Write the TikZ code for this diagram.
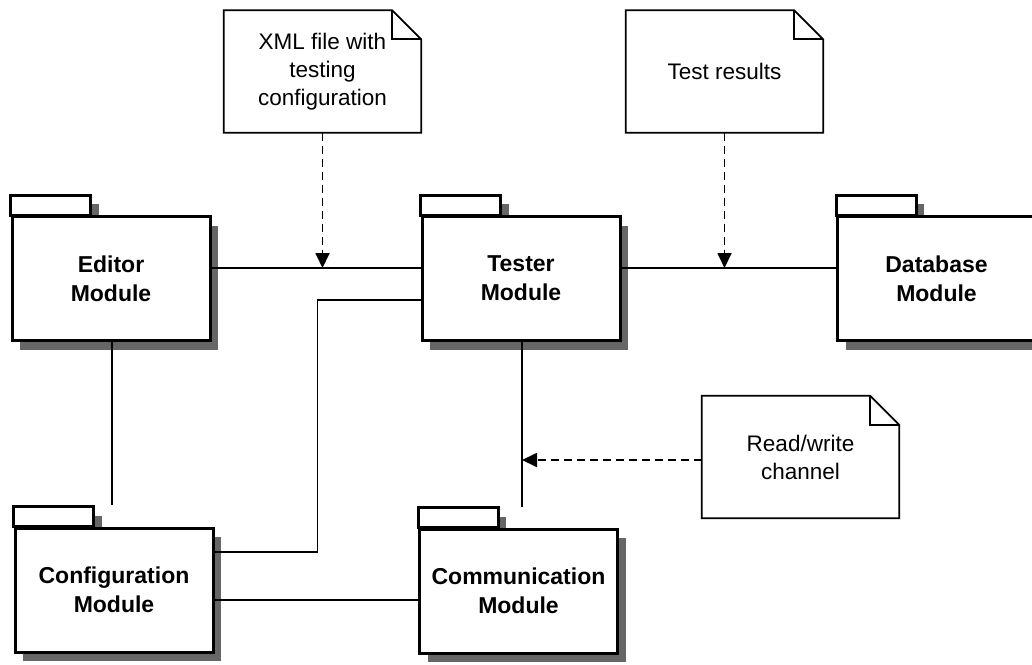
\documentclass[tikz,border=0pt]{standalone}
\usepackage{fontspec}
\setmainfont{Liberation Sans}
\usetikzlibrary{arrows.meta,shadows}
\pgfdeclarelayer{paper}
\pgfdeclarelayer{tabs}
\pgfsetlayers{paper,tabs,main}
\definecolor{shadowgray}{HTML}{666666}
\tikzset{
  x=1pt, y=-1pt,
  pkg/.style={draw, line width=3pt, fill=white, minimum width=198pt, minimum height=124pt,
    inner sep=0pt, align=center, font=\fontsize{23}{29}\selectfont\bfseries,
    drop shadow={shadow xshift=8pt, shadow yshift=-9pt, fill=shadowgray, opacity=1}},
  pkgtab/.style={draw, line width=3pt, fill=white,
    drop shadow={shadow xshift=8pt, shadow yshift=-9pt, fill=shadowgray, opacity=1}},
  note/.style={minimum width=197pt, minimum height=122pt, inner sep=0pt, align=center,
    font=\fontsize{22.5}{28}\selectfont},
  noteline/.style={draw, line width=1.8pt, fill=white},
  conn/.style={draw, line width=1.8pt},
  dep/.style={draw, line width=1.8pt, dash pattern=on 8pt off 5pt,
    -{Triangle[length=15pt, width=14pt]}},
}
% tab on top of a package body, drawn behind it
\newcommand\pkgtabfor[1]{%
  \begin{pgfonlayer}{tabs}
    \path[pkgtab] (#1.north west) rectangle ([xshift=80pt, yshift=20pt]#1.north west);
  \end{pgfonlayer}}
% dog-eared outline of a note
\newcommand\noteframe[1]{%
  \path[noteline] (#1.north west) -- ([xshift=-29pt]#1.north east)
    -- ([yshift=-29pt]#1.north east) -- (#1.south east) -- (#1.south west) -- cycle;
  \draw[line width=1.8pt] ([xshift=-29pt]#1.north east) |- ([yshift=-29pt]#1.north east);}
\begin{document}
\begin{tikzpicture}
\useasboundingbox (0,0) rectangle (1032,664);
\clip (0,0) rectangle (1032,664);
\begin{pgfonlayer}{paper}
  \fill[white] (0,0) rectangle (1032,664);
\end{pgfonlayer}

% packages
\node[pkg] (ed) at (111,278.5) {Editor\\Module};
\node[pkg] (ts) at (521,278.5) {Tester\\Module};
\node[pkg] (db) at (936.5,278.5) {Database\\Module};
\node[pkg] (cf) at (114,590) {Configuration\\Module};
\node[pkg] (cm) at (518.5,591) {Communication\\Module};
\pkgtabfor{ed}
\pkgtabfor{ts}
\pkgtabfor{db}
\pkgtabfor{cf}
\pkgtabfor{cm}

% notes
\node[note] (nx) at (322.5,71.5) {};
\noteframe{nx}
\node[note] at (nx) {XML file with\\testing\\configuration};
\node[note] (nr) at (724.5,71.5) {};
\noteframe{nr}
\node[note] at (nr) {Test results};
\node[note] (nc) at (800.5,457) {};
\noteframe{nc}
\node[note] at (nc) {Read/write\\channel};

% associations
\coordinate (edr) at ([yshift=10.5pt]ed.east);
\coordinate (tsl) at ([yshift=10.5pt]ts.west);
\coordinate (tsr) at ([yshift=10.5pt]ts.east);
\coordinate (dbl) at ([yshift=10.5pt]db.west);
\draw[conn] (edr) -- (tsl);
\draw[conn] (tsr) -- (dbl);
\draw[conn] ([yshift=-21.5pt]ts.west) -- ++(-103,0) |- ([yshift=38pt]cf.east);
\draw[conn] ([yshift=-10pt]cf.east) -- ([yshift=-10pt]cf.east -| cm.west);
\draw[conn] ([xshift=1pt]ed.south) -- ([xshift=1pt, yshift=22pt]ed.south |- cf.north);
\draw[conn] ([xshift=1pt]ts.south) -- ([xshift=1pt, yshift=21pt]ts.south |- cm.north);

% note anchors
\draw[dep] (nx.south) -- (nx.south |- edr);
\draw[dep] (nr.south) -- (nr.south |- tsr);
\draw[dep] ([yshift=-3pt]nc.west) -- ([xshift=1pt, yshift=-3pt]nc.west -| ts.south);
\end{tikzpicture}
\end{document}
